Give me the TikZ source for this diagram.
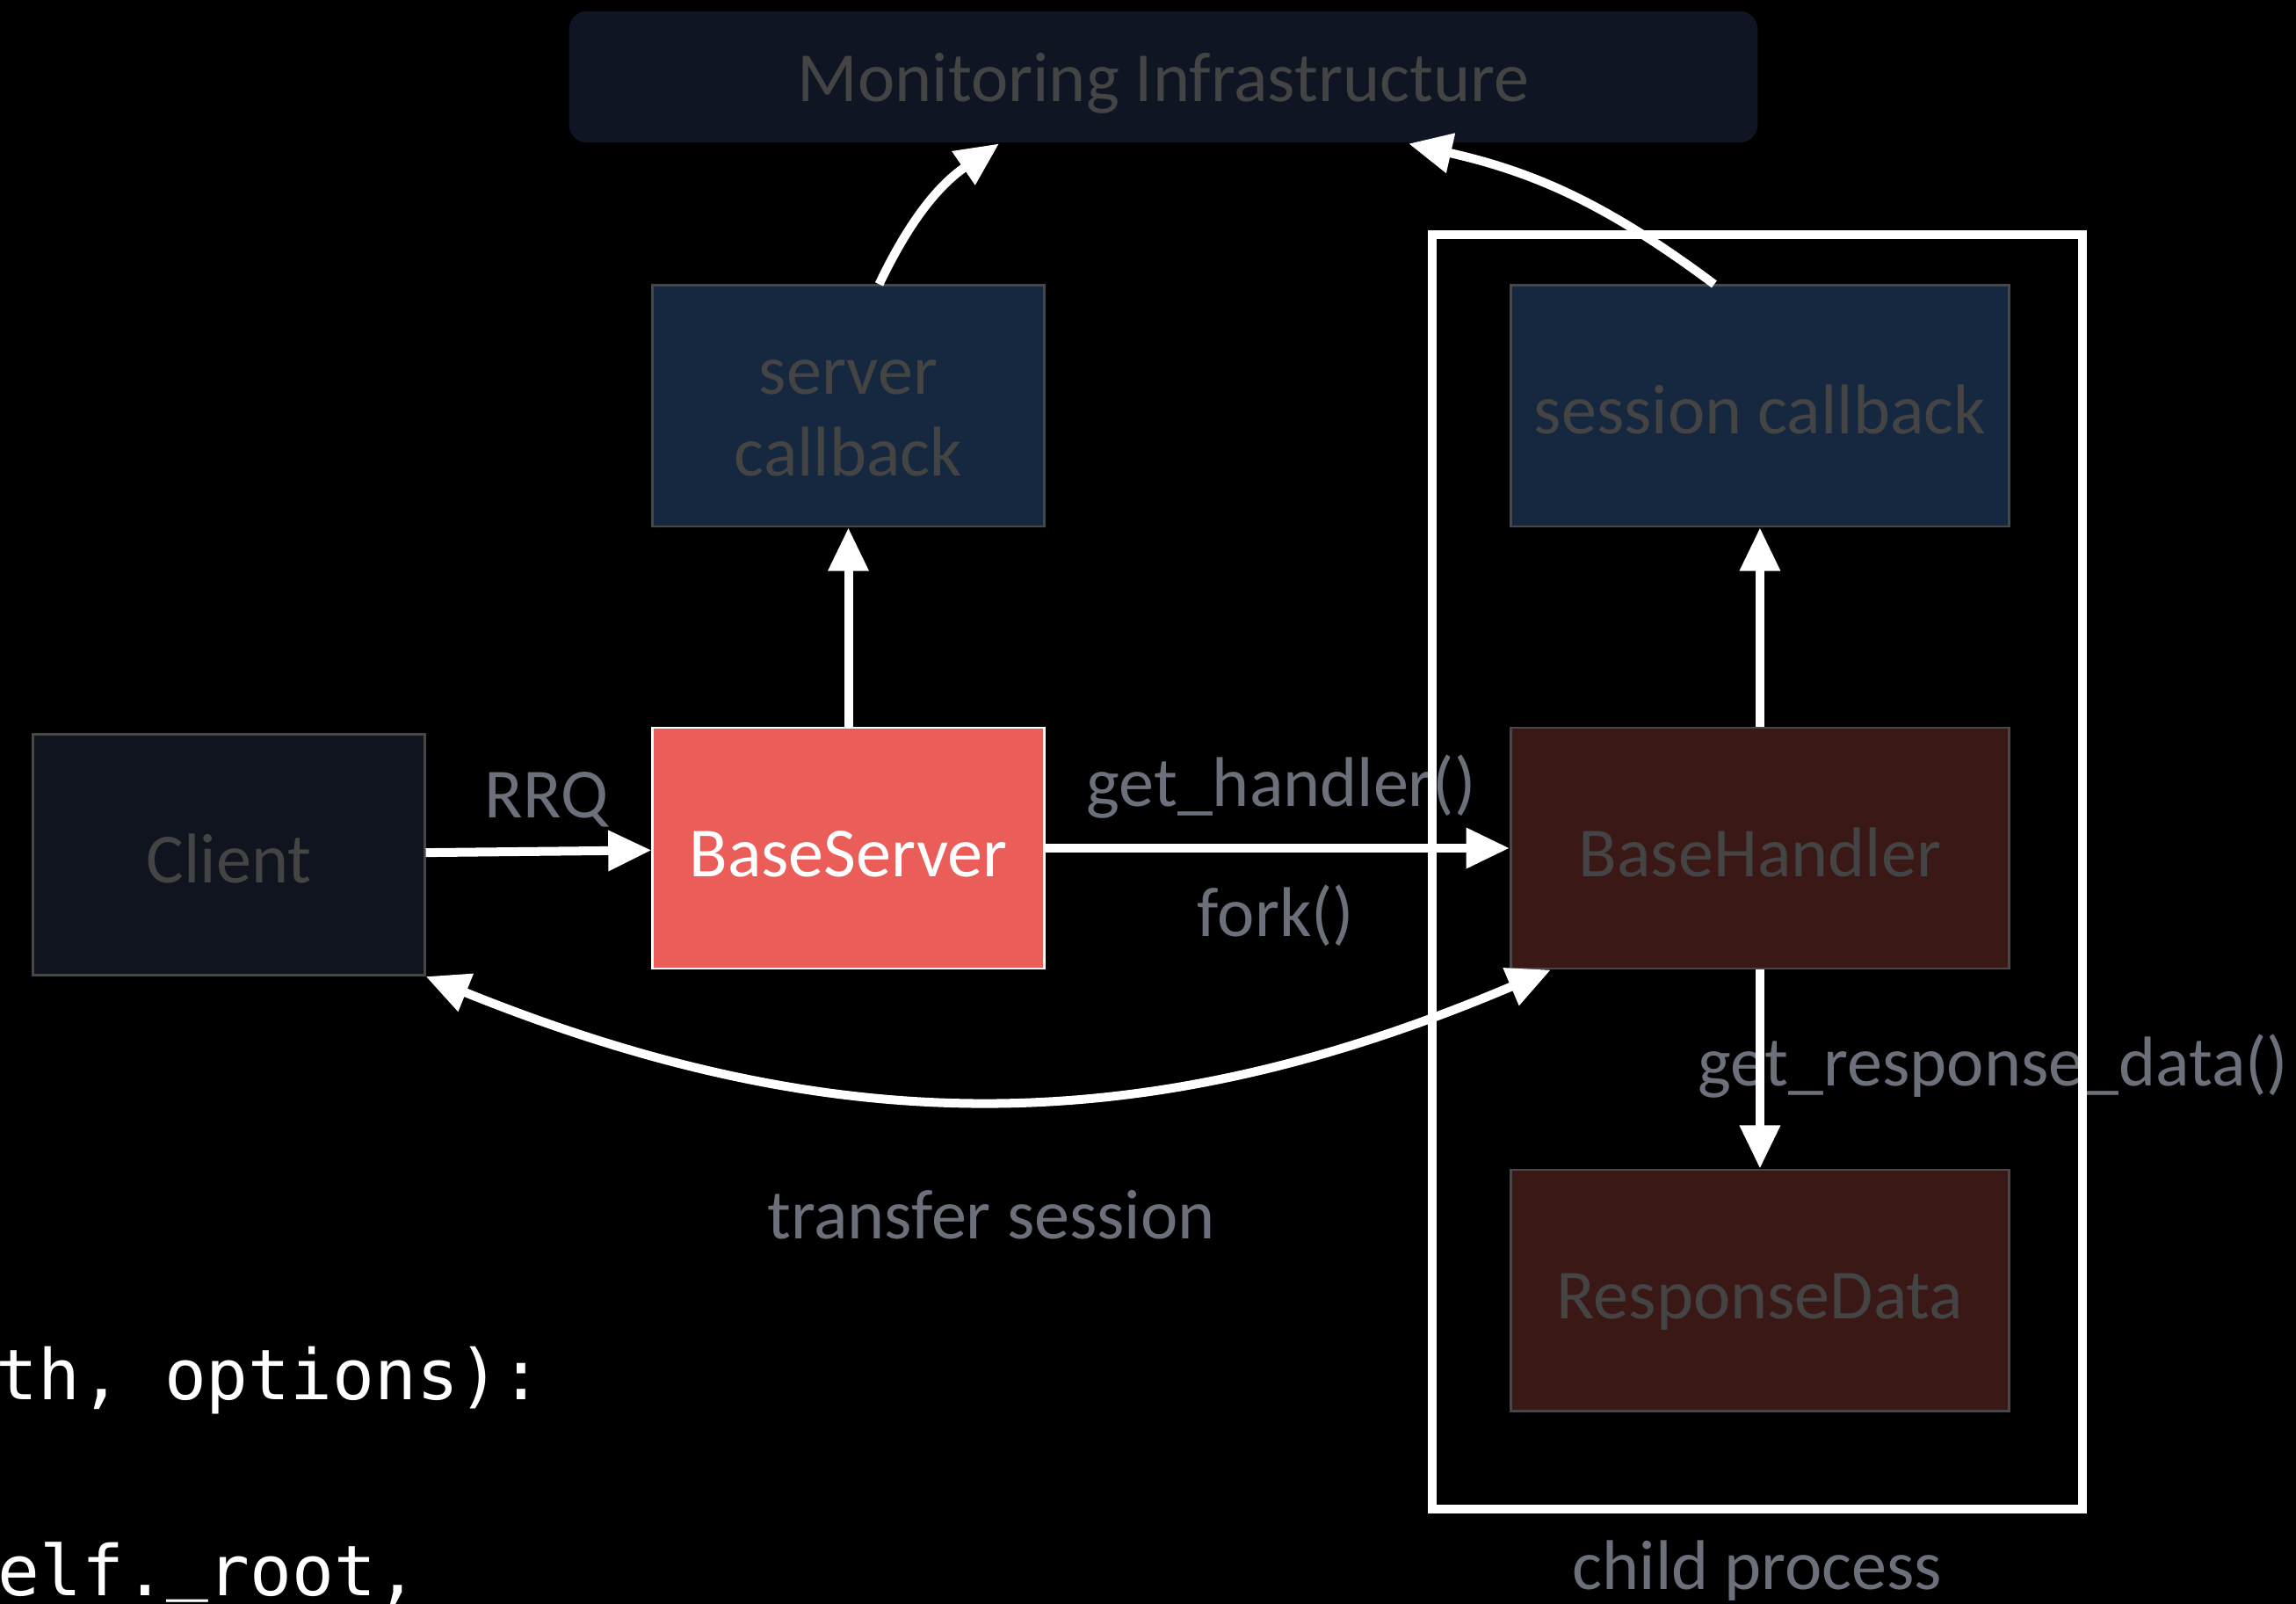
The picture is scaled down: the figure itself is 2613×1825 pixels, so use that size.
\documentclass[tikz,border=0pt]{standalone}
\usepackage{fontspec}
\setmainfont{Carlito}
\newfontfamily\codefont{DejaVu Sans Mono}
\usetikzlibrary{arrows.meta,positioning,calc}

\definecolor{monfill}{HTML}{0F1522}
\definecolor{cbfill}{HTML}{15283F}
\definecolor{clientfill}{HTML}{10141F}
\definecolor{srvfill}{HTML}{EA5D58}
\definecolor{hdlfill}{HTML}{3A1816}
\definecolor{boxline}{HTML}{474747}
\definecolor{boxtext}{HTML}{444444}
\definecolor{lbltext}{HTML}{6B707B}

\begin{document}
\begin{tikzpicture}[x=0.01cm,y=-0.01cm]
  \tikzset{
    box/.style={draw=boxline, line width=0.8pt, minimum width=4.45cm, minimum height=2.74cm,
      inner sep=0pt, align=center, text=boxtext, font=\fontsize{22.8}{26.2}\selectfont,
      text height=21.7pt, text depth=3.5pt},
    wide/.style={box, minimum width=5.67cm},
    lbl/.style={inner sep=0pt, text=lbltext, font=\fontsize{22.8}{26.2}\selectfont},
    code/.style={inner sep=0pt, anchor=base west, text=white, font=\codefont\fontsize{22.6}{26}\selectfont},
    flow/.style={draw=white, line width=2.85pt, -{Triangle[length=14pt,width=12.5pt]}},
    twoway/.style={flow, {Triangle[length=14pt,width=12.5pt]}-{Triangle[length=14pt,width=12.5pt]}},
  }
  \useasboundingbox (0,0) rectangle (2613,1825);
  \clip (0,0) rectangle (2613,1825);
  \fill[black] (0,0) rectangle (2613,1825);

  % code peeking out behind the diagram
  \node[code] (codeA) at (-5,1592) {th, options):};
  \node[code] (codeB) at (-3,1815) {elf.\raisebox{3pt}{\_}root,};

  % boxes
  \node[box, draw=none, fill=monfill, rounded corners=0.2cm, minimum width=13.52cm, minimum height=1.49cm,
    text height=19.2pt, text depth=3.4pt] (mon) at (1324,87.5) {Monitoring Infrastructure};
  \node[box, fill=clientfill] (client) at (260.5,972.5) {Client};
  \node[box, fill=srvfill, draw=white, text=white] (server) at (965.5,965) {BaseServer};
  \node[box, fill=cbfill, text height=45pt, text depth=0pt, above=2.26cm of server] (srvcb) {server\\callback};
  \node[wide, fill=hdlfill, right=5.28cm of server] (handler) {BaseHandler};
  \node[wide, fill=cbfill, above=2.26cm of handler] (sescb) {session callback};
  \node[wide, fill=hdlfill, below=2.26cm of handler] (data) {ResponseData};

  % edge labels
  \node[lbl] (rrq) at (622,910) {RRQ};
  \node[lbl] (gethdl) at (1458,895) {get\_handler()};
  \node[lbl] (fork) at (1452,1042) {fork()};
  \node[lbl] (getdata) at (2268,1213) {get\_response\_data()};
  \node[lbl] (xfer) at (1128,1382) {transfer session};

  % child process frame
  \node[draw=white, line width=2.85pt, minimum width=7.4cm, minimum height=14.5cm, inner sep=0pt]
    (child) at (2000,992) {};
  \node[lbl] (childlbl) at (2000,1787) {child process};

  % arrows
  \draw[flow] (client) -- (server);
  \draw[flow] (server) -- (handler);
  \draw[flow] (server) -- (srvcb);
  \draw[flow] (handler) -- (sescb);
  \draw[flow] (handler) -- (data);
  \draw[flow] ($(srvcb.north)+(35,0)$) to[bend left=15] ($(mon.south)+(-187,0)$);
  \draw[flow] ($(sescb.north)+(-52,0)$) to[bend right=12] ($(mon.south)+(279,0)$);
  \draw[twoway] (client.south east) to[out=-22, in=-157, looseness=1] ($(handler.south west)+(47,0)$);
\end{tikzpicture}
\end{document}
